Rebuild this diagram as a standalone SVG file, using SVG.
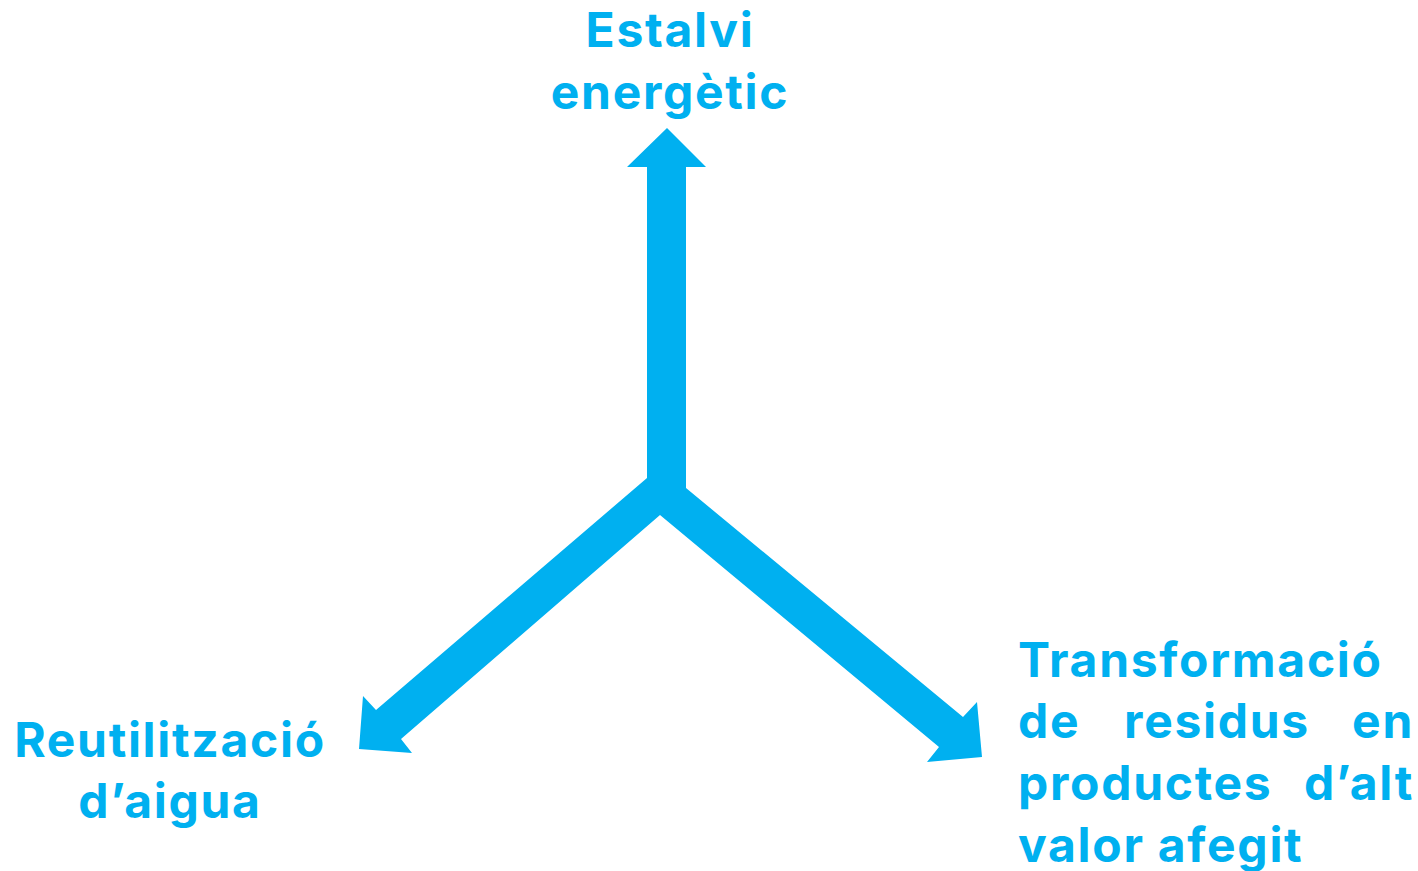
<svg xmlns="http://www.w3.org/2000/svg" width="1418" height="871" viewBox="0 0 1418 871">
<style>
.t{font-family:Inter,"Noto Sans","Liberation Sans",sans-serif;font-weight:700;font-size:48px;letter-spacing:1.7px;fill:#00B0F0}
.a{fill:#00B0F0}
</style>
<rect width="1418" height="871" fill="#fff"/>
<g id="connectors">
<path class="a" d="M667,128 L706,167 L686,167 L686,488 L963,717 L977,702 L982,757 L927,762 L939,747 L660,515 L401,739 L412,753 L359,749 L363,696 L376,710 L647,478 L647,167 L627,167 Z"/>
</g>
<g id="node-estalvi">
<text class="t" text-anchor="middle"><tspan x="670" y="47">Estalvi</tspan><tspan x="670" y="109">energètic</tspan></text>
</g>
<g id="node-reutilitzacio">
<text class="t" text-anchor="middle"><tspan x="170" y="757">Reutilització</tspan><tspan x="170" y="818">d’aigua</tspan></text>
</g>
<g id="node-transformacio">
<text class="t" x="1018" y="677">Transformació</text>
<text class="t" x="1018" y="738">de</text>
<text class="t" x="1217" y="738" text-anchor="middle">residus</text>
<text class="t" x="1414" y="738" text-anchor="end">en</text>
<text class="t" x="1018" y="800">productes</text>
<text class="t" x="1414" y="800" text-anchor="end">d’alt</text>
<text class="t" x="1018" y="862">valor afegit</text>
</g>
</svg>
